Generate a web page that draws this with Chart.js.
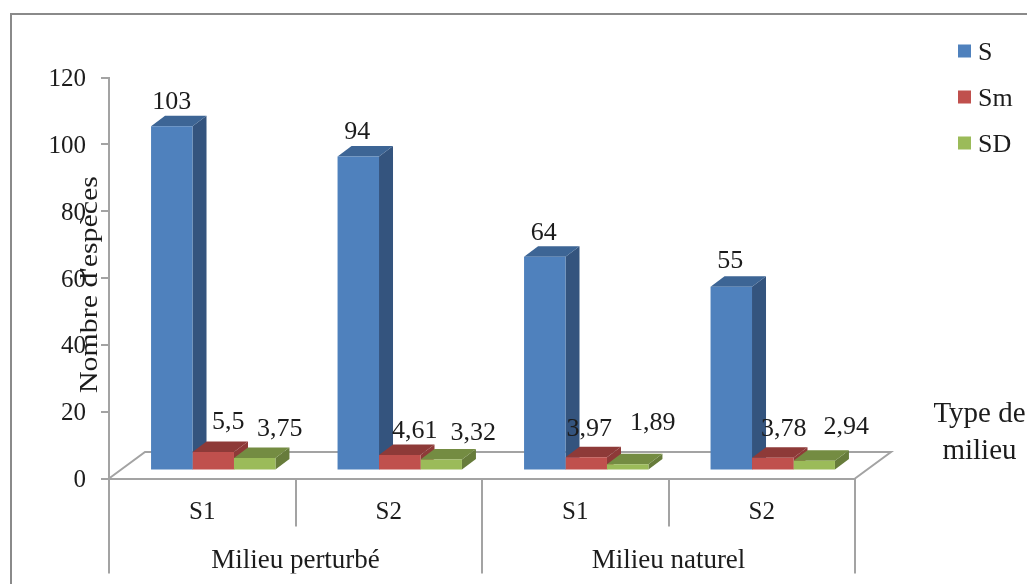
<!DOCTYPE html>
<html lang="fr">
<head>
<meta charset="utf-8">
<title>Nombre d'espèces par type de milieu</title>
<script src="https://cdn.jsdelivr.net/npm/chart.js@4/dist/chart.umd.min.js"></script>
<style>
    html, body { margin: 0; background: #fff; }
    canvas { display: block; }
</style>
</head>
<body>
<canvas id="speciesChart" width="1027" height="584"></canvas>
<script>
const sites = ['S1', 'S2', 'S1', 'S2'];
const milieux = ['Milieu perturbé', 'Milieu naturel'];
const valuesS = [103, 94, 64, 55];
const valuesSm = [5.5, 4.61, 3.97, 3.78];
const valuesSD = [3.75, 3.32, 1.89, 2.94];

// Hand-placed value labels: [dx, dy] from the top centre of each bar
const labelNudgeS = [[0, -24], [-1, -24], [-1, -23], [-1, -26]];
const labelNudgeSm = [[15, -30], [15, -24], [3, -28], [11, -29]];
const labelNudgeSD = [[25, -29], [32, -26], [25, -41], [32, -34]];

const FONT = '"Liberation Serif", "Times New Roman", serif';
const INK = '#1c1c1c';
const AXIS_GREY = '#a3a3a3';
const FRAME_GREY = '#8a8a8a';

// The bars stand on a floor set back from the front axis
const FLOOR_SHIFT = { x: 11, y: -8 };
const DEPTH = { x: 14, y: -10.5 };
const FLOOR_BACK = { x: 36, y: -26.5 };

const sideColours = [
    { top: '#3d6595', side: '#34547e' },
    { top: '#8e3a38', side: '#8e3a38' },
    { top: '#748c42', side: '#677c3b' }
];

const line = (ctx, points, colour, width) => {
    ctx.beginPath();
    points.forEach(([x, y], i) => (i ? ctx.lineTo(x, y) : ctx.moveTo(x, y)));
    ctx.strokeStyle = colour;
    ctx.lineWidth = width;
    ctx.stroke();
};

const fillShape = (ctx, points, colour) => {
    ctx.beginPath();
    points.forEach(([x, y], i) => (i ? ctx.lineTo(x, y) : ctx.moveTo(x, y)));
    ctx.closePath();
    ctx.fillStyle = colour;
    ctx.fill();
};

const box3d = {
    id: 'box3d',
    beforeDatasetsDraw(chart) {
        const { ctx, chartArea: { left, right, bottom } } = chart;

        // floor outline behind the bars
        line(ctx, [
            [left, bottom],
            [left + FLOOR_BACK.x, bottom + FLOOR_BACK.y],
            [right + FLOOR_BACK.x, bottom + FLOOR_BACK.y],
            [right, bottom]
        ], AXIS_GREY, 2);

        ctx.save();
        ctx.translate(FLOOR_SHIFT.x, FLOOR_SHIFT.y);

        // top and right faces, left to right so each bar covers its neighbour
        sites.forEach((_, i) => {
            chart.data.datasets.forEach((_, d) => {
                const bar = chart.getDatasetMeta(d).data[i];
                const x0 = bar.x - bar.width / 2;
                const x1 = bar.x + bar.width / 2;
                fillShape(ctx, [
                    [x1, bar.y],
                    [x1 + DEPTH.x, bar.y + DEPTH.y],
                    [x1 + DEPTH.x, bar.base + DEPTH.y],
                    [x1, bar.base]
                ], sideColours[d].side);
                fillShape(ctx, [
                    [x0, bar.y],
                    [x0 + DEPTH.x, bar.y + DEPTH.y],
                    [x1 + DEPTH.x, bar.y + DEPTH.y],
                    [x1, bar.y]
                ], sideColours[d].top);
            });
        });
    },
    afterDatasetsDraw(chart) {
        chart.ctx.restore();
    },
    afterDraw(chart) {
        const { ctx } = chart;
        ctx.save();
        ctx.fillStyle = INK;
        ctx.textAlign = 'center';
        ctx.textBaseline = 'middle';

        // value labels, decimal comma
        const nudges = [labelNudgeS, labelNudgeSm, labelNudgeSD];
        ctx.font = `26px ${FONT}`;
        chart.data.datasets.forEach((ds, d) => {
            chart.getDatasetMeta(d).data.forEach((bar, i) => {
                const [dx, dy] = nudges[d][i];
                const text = String(ds.data[i]).replace('.', ',');
                ctx.fillText(text, bar.x + FLOOR_SHIFT.x + dx, bar.y + FLOOR_SHIFT.y + dy);
            });
        });

        // axis titles
        ctx.font = `29px ${FONT}`;
        ctx.fillText('Type de', 979.5, 414);
        ctx.fillText('milieu', 979.5, 451.5);
        ctx.font = `25px ${FONT}`;
        ctx.save();
        ctx.translate(90, 284.5);
        ctx.rotate(-Math.PI / 2);
        ctx.scale(1.195, 1);
        ctx.fillText("Nombre d'espèces", 0, 0);
        ctx.restore();

        // legend
        ctx.font = `26px ${FONT}`;
        ctx.textAlign = 'left';
        chart.data.datasets.forEach((ds, d) => {
            const cy = 51 + d * 46;
            ctx.fillStyle = ds.backgroundColor;
            ctx.fillRect(958, cy - 6.5, 13, 13);
            ctx.fillStyle = INK;
            ctx.fillText(ds.label, 978, cy + 2.5);
        });

        // outer frame: only the top and left edges fall inside the page
        line(ctx, [[11, 584], [11, 14], [1027, 14]], FRAME_GREY, 2);
        ctx.restore();
    }
};

new Chart(document.getElementById('speciesChart'), {
    type: 'bar',
    data: {
        labels: sites,
        datasets: [
            { label: 'S', data: valuesS, backgroundColor: '#4f81bd' },
            { label: 'Sm', data: valuesSm, backgroundColor: '#c0504d' },
            { label: 'SD', data: valuesSD, backgroundColor: '#9bbb59' }
        ]
    },
    plugins: [box3d],
    options: {
        responsive: false,
        animation: false,
        events: [],
        layout: { padding: { left: 29, right: 172, top: 77.5, bottom: 10.5 } },
        datasets: { bar: { barPercentage: 1, categoryPercentage: 0.667, clip: false, borderWidth: 0 } },
        plugins: { legend: { display: false }, tooltip: { enabled: false } },
        scales: {
            x: {
                grid: { drawOnChartArea: false, tickLength: 48, color: AXIS_GREY, lineWidth: 2 },
                border: { color: AXIS_GREY, width: 2 },
                ticks: { color: INK, font: { family: FONT, size: 25 }, padding: -29, maxRotation: 0, autoSkip: false },
                afterFit: (scale) => { scale.height = 47; }
            },
            groups: {
                type: 'category',
                position: 'bottom',
                labels: milieux,
                offset: true,
                grid: { offset: true, drawOnChartArea: false, tickLength: 48, color: AXIS_GREY, lineWidth: 2 },
                border: { display: false },
                ticks: { color: INK, font: { family: FONT, size: 27 }, padding: -29, maxRotation: 0, autoSkip: false },
                afterFit: (scale) => { scale.height = 48; }
            },
            y: {
                min: 0,
                max: 120,
                ticks: { stepSize: 20, color: INK, font: { family: FONT, size: 25 }, padding: 15, labelOffset: 2 },
                grid: { drawOnChartArea: false, tickLength: 8, color: AXIS_GREY, lineWidth: 2 },
                border: { color: AXIS_GREY, width: 2 },
                afterFit: (scale) => { scale.width = 80; }
            }
        }
    }
});
</script>
</body>
</html>
